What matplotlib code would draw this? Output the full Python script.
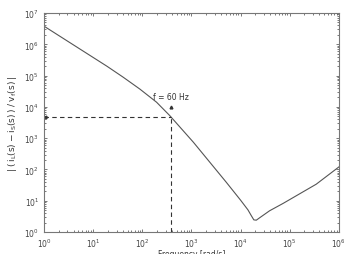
import numpy as np
import matplotlib
matplotlib.use('Agg')
import matplotlib.pyplot as plt

# values (log10 of frequency and magnitude)
log_freq = [0.0, 0.6, 1.28, 1.61, 1.95, 2.29, 2.56, 3.04, 3.71, 4.0, 4.15, 4.22,
            4.27, 4.32, 4.4, 4.59, 4.87, 5.54, 6.0]
log_mag = [6.58, 5.98, 5.30, 4.95, 4.57, 4.15, 3.72, 2.87, 1.59, 1.02, 0.71, 0.52,
           0.39, 0.38, 0.47, 0.68, 0.92, 1.53, 2.08]

f60_w = 377.0      # 60 Hz in rad/s
f60_mag = 4.8e3

freq = 10.0 ** np.array(log_freq)
mag = 10.0 ** np.array(log_mag)

plt.rcParams['font.family'] = 'DejaVu Sans'
fig = plt.figure(figsize=(3.44, 2.55), dpi=100)
ax = fig.add_axes([0.128, 0.086, 0.857, 0.859])

ax.loglog(freq, mag, color='#555555', lw=0.8)

# 60 Hz marker lines
ax.plot([1.0, f60_w], [f60_mag, f60_mag], color='#333333', lw=0.8, ls=(0, (4, 3)))
ax.plot([f60_w, f60_w], [1.0, f60_mag], color='#333333', lw=0.8, ls=(0, (4, 3)))
ax.plot([1.05], [f60_mag], marker='<', ms=2, color='#333333')
ax.plot([f60_w], [f60_mag * 2.1], marker='^', ms=2, color='#333333')
ax.text(f60_w, f60_mag * 3.3, 'f = 60 Hz', fontsize=5.5, ha='center', va='bottom', color='#333333')

ax.set_xlim(1, 1e6)
ax.set_ylim(1, 1e7)
ax.set_xticks(10.0 ** np.arange(0, 7))
ax.set_yticks(10.0 ** np.arange(0, 8))
ax.tick_params(which='both', direction='in', top=True, right=True, labelsize=5.5,
               colors='#444444', width=0.5)
ax.tick_params(which='major', length=2.5)
ax.tick_params(which='minor', length=1.3)
for s in ax.spines.values():
    s.set_color('#777777')
    s.set_linewidth(0.8)

ax.set_xlabel('Frequency [rad/s]', fontsize=5.5, color='#333333', labelpad=0)
ax.set_ylabel(r'$|\;(\,\mathrm{i_L(s)}-\mathrm{i_S(s)}\,)\;/\;\mathrm{v_f(s)}\;|$',
              fontsize=6.5, color='#333333', labelpad=4)

fig.savefig('out.png', dpi=100)
